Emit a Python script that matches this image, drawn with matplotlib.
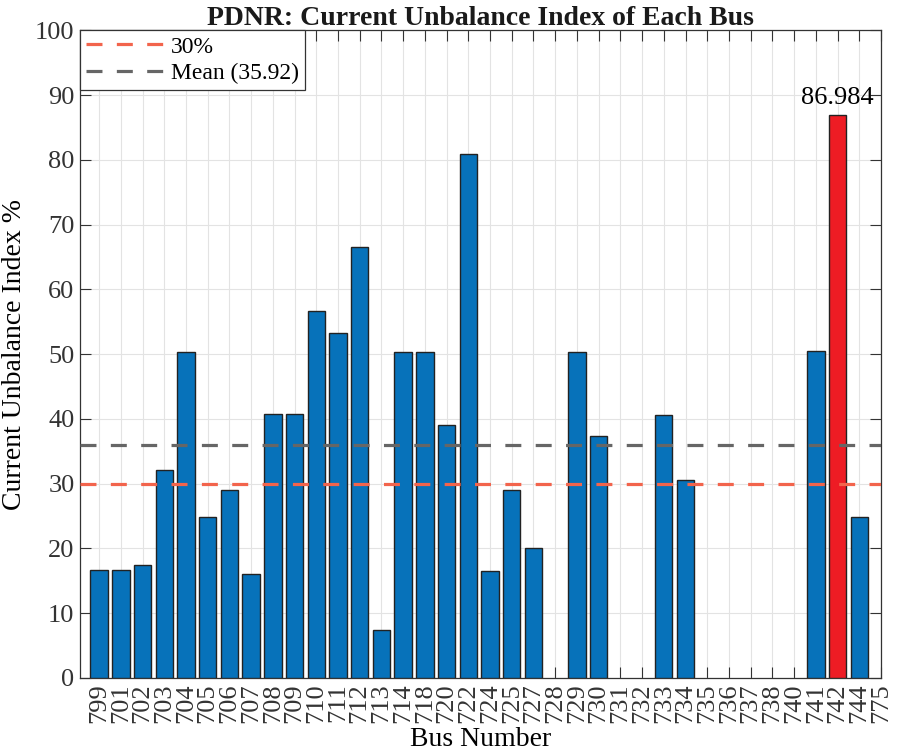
import numpy as np
import matplotlib.pyplot as plt

# =========================
# DATA
# =========================

buses = ["799", "701", "702", "703", "704", "705", "706", "707", "708", "709",
         "710", "711", "712", "713", "714", "718", "720", "722", "724", "725",
         "727", "728", "729", "730", "731", "732", "733", "734", "735", "736",
         "737", "738", "740", "741", "742", "744", "775"]

cui = [16.7, 16.6, 17.4, 32.1, 50.3, 24.9, 29.0, 16.1, 40.7, 40.7,
       56.6, 53.3, 66.6, 7.4, 50.3, 50.3, 39.1, 80.9, 16.5, 29.0,
       20.1, 0, 50.4, 37.4, 0, 0, 40.6, 30.5, 0, 0,
       0, 0, 0, 50.5, 86.984, 24.8, 0]

limit = 30
mean_val = 35.92

# =========================
# PLOT
# =========================

plt.rcParams["font.family"] = ["Liberation Serif", "DejaVu Serif"]

fig = plt.figure(figsize=(9.01, 7.54), dpi=100)
ax = fig.add_axes([0.0888, 0.1008, 0.889, 0.859])

x = np.arange(1, len(buses) + 1)
imax = int(np.argmax(cui))
colors = ["#0772BA"] * len(buses)
colors[imax] = "#EE1C24"
widths = [1.0 if v > 0 else 0 for v in cui]

ax.bar(x, cui, width=0.8, color=colors, edgecolor="#222222",
       linewidth=widths, zorder=3)

ax.axhline(limit, color="#F2644C", linestyle=(0, (5, 4.5)), linewidth=2.3,
           label="30%", zorder=4)
ax.axhline(mean_val, color="#666666", linestyle=(0, (5, 4.5)), linewidth=2.3,
           label=f"Mean ({mean_val:.2f})", zorder=4)

ax.text(x[imax], cui[imax] + 0.8, f"{cui[imax]:g}", ha="center",
        va="bottom", fontsize=19, zorder=5)

ax.set_xlim(0.12, 37.0)
ax.set_ylim(0, 100)
ax.set_xticks(x)
ax.set_xticklabels(buses, rotation=90, fontsize=19, color="#333333")
ax.set_yticks(np.arange(0, 101, 10))
ax.tick_params(axis="y", labelsize=19, labelcolor="#333333")
ax.tick_params(direction="in", top=True, right=True, length=8,
               width=0.8, color="#333333", pad=4)

ax.grid(True, color="#e3e3e3", linewidth=0.8, zorder=0)
ax.set_axisbelow(True)
for s in ax.spines.values():
    s.set_color("#333333")
    s.set_linewidth(0.9)

ax.set_title("PDNR: Current Unbalance Index of Each Bus", fontsize=20,
             fontweight="bold", pad=4, color="#1a1a1a")
ax.set_xlabel("Bus Number", fontsize=20, labelpad=3)
ax.set_ylabel("Current Unbalance Index %", fontsize=20, labelpad=6)

leg = ax.legend(loc="upper left", fontsize=17, handlelength=3.3,
                borderaxespad=0, fancybox=False, framealpha=1,
                edgecolor="#333333", borderpad=0.25, labelspacing=0.2,
                handletextpad=0.3)
leg.get_frame().set_linewidth(0.9)

plt.savefig("out.png", dpi=100)
